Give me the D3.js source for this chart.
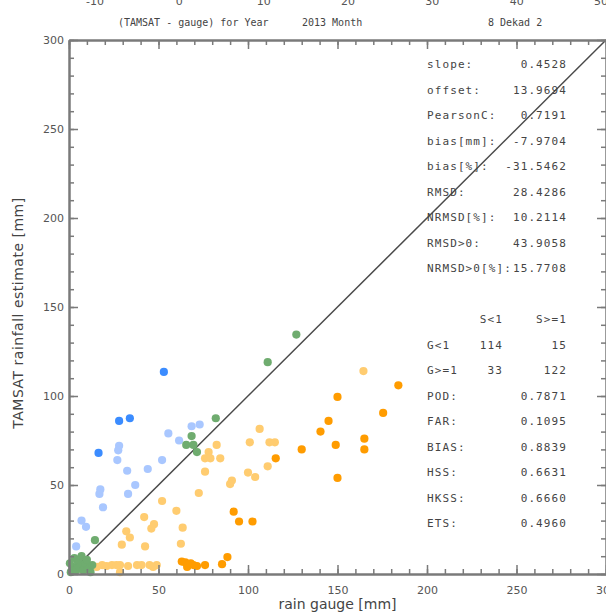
<!DOCTYPE html>
<html>
<head>
<meta charset="utf-8">
<script src="https://cdn.jsdelivr.net/npm/d3@7"></script>
<style>
  html, body { margin: 0; padding: 0; background: #fff; }
  svg { display: block; }
</style>
</head>
<body>
<svg id="chart" width="606" height="616"></svg>
<script>
// ---------------- DATA ----------------
// gauge [mm] (x) and TAMSAT [mm] (y) per colour group
const darkBlueGauge  = [53, 28, 34, 16.5];
const darkBlueSat    = [113.5, 86, 87.5, 68];

const lightBlueGauge = [68.5, 73, 55.5, 61.5, 28, 27.5, 27, 32.5, 44, 52, 37, 33, 17.5, 17, 19, 7, 9.5, 4];
const lightBlueSat   = [83, 84, 79, 75, 72, 69.5, 64, 58, 59, 64, 50, 45, 47.5, 45, 37.5, 30, 26.5, 15.5];

const greenGauge = [127, 111, 82, 68.5, 65.5, 69.5, 71.5, 14.5, 1, 2, 4, 5, 6, 8, 9, 11, 13, 3, 7, 12, 0.5, 10];
const greenSat   = [134.5, 119, 87.5, 77.5, 72.5, 72.5, 68.5, 19, 1, 4, 2, 7, 4, 2, 6, 3, 5, 9, 10, 1, 6, 8];

const lightOrangeGauge = [82.5, 78, 76, 79, 84.5, 76, 91, 90, 72.5, 52, 60, 42, 47.5, 46, 63.5, 32, 34, 29.5, 42.5, 62.5,
                          164.5, 106.5, 101, 112, 115, 111, 100, 104,
                          8, 7, 15.5, 18.5, 21, 24, 26.5, 28.5, 33, 38, 40.5, 45, 49, 28.5, 47, 10];
const lightOrangeSat   = [72.5, 68.5, 65, 65, 65, 57.5, 52.5, 50.5, 45.5, 41, 35.5, 32, 28, 25.5, 26, 24, 20.5, 16.5, 15.5, 17,
                          114, 81.5, 74, 74, 74, 60.5, 57, 54.5,
                          2, 4, 4, 5, 4.5, 5, 5, 5, 4.5, 5, 5, 5, 5, 1, 4, 5];

const darkOrangeGauge = [184, 150, 175.5, 145, 140.5, 165, 149, 165, 130, 115.5, 150, 102.5, 95, 92,
                         63, 65, 67, 69.5, 71.5, 76, 85.5, 88.5, 66, 68];
const darkOrangeSat   = [106, 99.5, 90.5, 86, 80, 76, 72.5, 70, 70, 65, 54, 29.5, 29.5, 35,
                         7, 6.5, 5.5, 5, 4.5, 5, 5.5, 9.5, 4, 6];

const series = [
  { name: "lightOrange", gauge: lightOrangeGauge, sat: lightOrangeSat, color: "#ffcc70" },
  { name: "lightBlue",   gauge: lightBlueGauge,   sat: lightBlueSat,   color: "#a9c7ff" },
  { name: "green",       gauge: greenGauge,       sat: greenSat,       color: "#6fac6f" },
  { name: "darkOrange",  gauge: darkOrangeGauge,  sat: darkOrangeSat,  color: "#ff9c00" },
  { name: "darkBlue",    gauge: darkBlueGauge,    sat: darkBlueSat,    color: "#3b8cff" }
];

const majorTicks = [0, 50, 100, 150, 200, 250, 300];
const minorTicks = d3.range(0, 301, 10);

const titleParts = ["(TAMSAT - gauge) for Year", "2013 Month", "8 Dekad 2"];
const topPanelTicks = [-10, 0, 10, 20, 30, 40, 50];

const statLabels = ["slope:", "offset:", "PearsonC:", "bias[mm]:", "bias[%]:", "RMSD:", "NRMSD[%]:", "RMSD>0:", "NRMSD>0[%]:"];
const statValues = ["0.4528", "13.9694", "0.7191", "-7.9704", "-31.5462", "28.4286", "10.2114", "43.9058", "15.7708"];

const contHeader = ["", "S<1", "S>=1"];
const contRows = [["G<1", "114", "15"], ["G>=1", "33", "122"]];
const skillLabels = ["POD:", "FAR:", "BIAS:", "HSS:", "HKSS:", "ETS:"];
const skillValues = ["0.7871", "0.1095", "0.8839", "0.6631", "0.6660", "0.4960"];

// ---------------- LAYOUT ----------------
const svg = d3.select("#chart");
svg.append("rect").attr("width", 606).attr("height", 616).attr("fill", "#fff");

const x = d3.scaleLinear().domain([0, 300]).range([69, 606]);
const y = d3.scaleLinear().domain([0, 300]).range([574, 40]);

const axisColor = "#7a7a7a";
const labelFont = "'DejaVu Sans', sans-serif";
const monoFont = "'DejaVu Sans Mono', monospace";

// partial labels of panel above (cut off at top)
const topX = d3.scaleLinear().domain([-10, 50]).range([95, 601]);
svg.append("g").selectAll("text").data(topPanelTicks).join("text")
  .attr("x", d => topX(d)).attr("y", 5)
  .attr("text-anchor", "middle")
  .attr("font-family", labelFont).attr("font-size", 11).attr("fill", "#555")
  .text(d => d);

// title
const titleX = [118, 302, 488];
svg.append("g").selectAll("text").data(titleParts).join("text")
  .attr("x", (d, i) => titleX[i]).attr("y", 26)
  .attr("font-family", monoFont).attr("font-size", 10).attr("fill", "#444")
  .text(d => d);

// 1:1 line
svg.append("line")
  .attr("x1", x(0)).attr("y1", y(0)).attr("x2", x(300)).attr("y2", y(300))
  .attr("stroke", "#4a4a4a").attr("stroke-width", 1.5);

// points
const pts = [];
series.forEach(s => s.gauge.forEach((g, i) => pts.push({ g, s: s.sat[i], color: s.color })));
svg.append("g").selectAll("circle").data(pts).join("circle")
  .attr("cx", d => x(d.g)).attr("cy", d => y(d.s)).attr("r", 4.1)
  .attr("fill", d => d.color);

// axes
function styleAxis(g) {
  g.select(".domain").attr("stroke", axisColor).attr("stroke-width", 2);
  g.selectAll(".tick line").attr("stroke", axisColor).attr("stroke-width", 1.5);
  g.selectAll(".tick text").attr("font-family", labelFont).attr("font-size", 11).attr("fill", "#555");
}
// bottom
svg.append("g").attr("transform", `translate(0,${y(0)})`)
  .call(d3.axisBottom(x).tickValues(minorTicks).tickSize(-5).tickSizeOuter(0).tickFormat(""))
  .call(styleAxis);
svg.append("g").attr("transform", `translate(0,${y(0)})`)
  .call(d3.axisBottom(x).tickValues(majorTicks).tickSize(-9).tickSizeOuter(0).tickPadding(12).tickFormat(d3.format("d")))
  .call(styleAxis);
// top
svg.append("g").attr("transform", `translate(0,${y(300)})`)
  .call(d3.axisTop(x).tickValues(minorTicks).tickSize(-5).tickSizeOuter(0).tickFormat(""))
  .call(styleAxis);
svg.append("g").attr("transform", `translate(0,${y(300)})`)
  .call(d3.axisTop(x).tickValues(majorTicks).tickSize(-9).tickSizeOuter(0).tickFormat(""))
  .call(styleAxis);
// left
svg.append("g").attr("transform", `translate(${x(0)},0)`)
  .call(d3.axisLeft(y).tickValues(minorTicks).tickSize(-5).tickSizeOuter(0).tickFormat(""))
  .call(styleAxis);
svg.append("g").attr("transform", `translate(${x(0)},0)`)
  .call(d3.axisLeft(y).tickValues(majorTicks).tickSize(-9).tickSizeOuter(0).tickPadding(5).tickFormat(d3.format("d")))
  .call(styleAxis);
// right
svg.append("g").attr("transform", `translate(${x(300)},0)`)
  .call(d3.axisRight(y).tickValues(minorTicks).tickSize(-5).tickSizeOuter(0).tickFormat(""))
  .call(styleAxis);
svg.append("g").attr("transform", `translate(${x(300)},0)`)
  .call(d3.axisRight(y).tickValues(majorTicks).tickSize(-9).tickSizeOuter(0).tickFormat(""))
  .call(styleAxis);

// axis titles
svg.append("text")
  .attr("x", (x(0) + x(300)) / 2).attr("y", 609)
  .attr("text-anchor", "middle")
  .attr("font-family", labelFont).attr("font-size", 14).attr("fill", "#444")
  .text("rain gauge [mm]");
svg.append("text")
  .attr("transform", `translate(23,${(y(0) + y(300)) / 2 + 6}) rotate(-90)`)
  .attr("text-anchor", "middle")
  .attr("font-family", labelFont).attr("font-size", 14).attr("fill", "#444")
  .attr("letter-spacing", 0.5)
  .text("TAMSAT rainfall estimate [mm]");

// statistics text
const statsG = svg.append("g")
  .attr("font-family", monoFont).attr("font-size", 11).attr("fill", "#444")
  .attr("letter-spacing", 1.1);
const lh = 25.5, col0 = 427, col1 = 503, col2 = 567, firstRow = 68;
statLabels.forEach((lab, i) => {
  statsG.append("text").attr("x", col0).attr("y", firstRow + i * lh).text(lab);
  statsG.append("text").attr("x", col2).attr("y", firstRow + i * lh).attr("text-anchor", "end").text(statValues[i]);
});
const contTop = firstRow + 10 * lh;
contHeader.forEach((h, j) => {
  if (!h) return;
  statsG.append("text").attr("x", j === 1 ? col1 : col2).attr("y", contTop).attr("text-anchor", "end").text(h);
});
contRows.forEach((r, i) => {
  const yy = contTop + (i + 1) * lh;
  statsG.append("text").attr("x", col0).attr("y", yy).text(r[0]);
  statsG.append("text").attr("x", col1).attr("y", yy).attr("text-anchor", "end").text(r[1]);
  statsG.append("text").attr("x", col2).attr("y", yy).attr("text-anchor", "end").text(r[2]);
});
skillLabels.forEach((lab, i) => {
  const yy = contTop + (i + 3) * lh;
  statsG.append("text").attr("x", col0).attr("y", yy).text(lab);
  statsG.append("text").attr("x", col2).attr("y", yy).attr("text-anchor", "end").text(skillValues[i]);
});
</script>
</body>
</html>
